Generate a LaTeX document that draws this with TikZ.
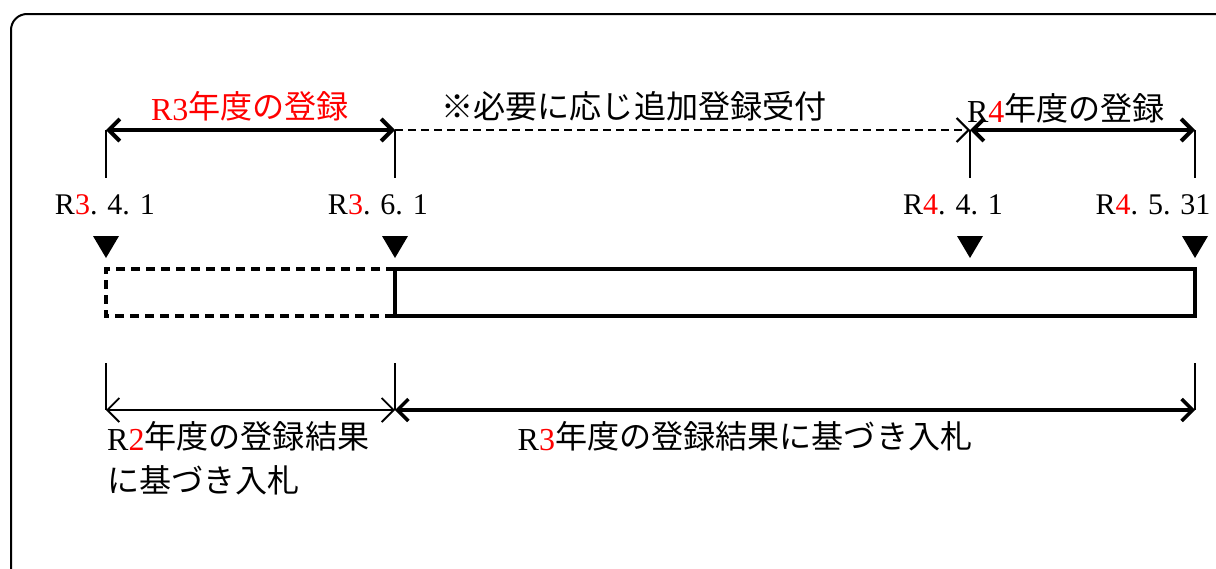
\documentclass[tikz,border=0pt]{standalone}
\usepackage{fontspec}
\setmainfont{Liberation Serif}
\newfontfamily\cjk[Scale=1.07]{Noto Sans CJK JP}
\newcommand{\lat}[1]{\raisebox{-2.5pt}{\fontsize{32}{36}\selectfont #1}}
\usetikzlibrary{arrows.meta}
\tikzset{
  lbl/.style={inner sep=0pt, font=\fontsize{30}{36}\selectfont},
  thickarr/.style={line width=4pt, {Straight Barb[length=11pt,width=22pt]}-{Straight Barb[length=11pt,width=22pt]}},
  thinarr/.style={line width=1.8pt, {Straight Barb[length=12pt,width=24pt]}-{Straight Barb[length=12pt,width=24pt]}},
  tick/.style={line width=2pt},
  tri/.style={fill=black},
}
\begin{document}
\begin{tikzpicture}[x=1pt,y=-1pt]
\useasboundingbox (0,0) rectangle (1216,568);
\clip (0,0) rectangle (1216,568);
% outer frame
\draw[line width=2pt, rounded corners=16pt] (11,14) rectangle (1250,600);

% top reference points
\coordinate (a1) at (106,130);
\coordinate (a2) at (395,130);
\coordinate (a3) at (970,130);
\coordinate (a4) at (1195,130);
\coordinate (k1) at (106,178);
\coordinate (k2) at (395,178);
\coordinate (k3) at (970,178);
\coordinate (k4) at (1195,178);

\draw[tick] (a1) -- (k1);
\draw[tick] (a2) -- (k2);
\draw[tick] (a3) -- (k3);
\draw[tick] (a4) -- (k4);

\draw[thickarr] (a1) -- (a2);
\draw[line width=2pt, dash pattern=on 8pt off 5pt, -{Straight Barb[length=12pt,width=24pt]}] (a2) -- (a3);
\draw[thickarr] (a3) -- (a4);

% top labels
\node[lbl, text=red] (t1) at (250,106) {\lat{R3}{\cjk 年度の登録}};
\node[lbl] (t2) at (634,106) {\cjk ※必要に応じ追加登録受付};
\node[lbl] (t3) at (1066,108) {\lat{R\textcolor{red}{4}}{\cjk 年度の登録}};

% date labels
\node[lbl] (d1) at (105,205) {R\textcolor{red}{3}. 4. 1};
\node[lbl] (d2) at (378,205) {R\textcolor{red}{3}. 6. 1};
\node[lbl] (d3) at (953,205) {R\textcolor{red}{4}. 4. 1};
\node[lbl] (d4) at (1153,205) {R\textcolor{red}{4}. 5. 31};

% triangles
\foreach \x in {106,395,970,1195}{
  \fill[tri] (\x-13,236) -- (\x+13,236) -- (\x,258) -- cycle;
}

% bars
\draw[line width=3.5pt, dash pattern=on 9pt off 6pt] (395,269) -- (106,269) -- (106,316) -- (395,316);
\draw[line width=4pt] (395,269) rectangle (1195,316);

% bottom reference points
\coordinate (u1) at (106,363);
\coordinate (u2) at (395,363);
\coordinate (u4) at (1195,363);
\coordinate (b1) at (106,410);
\coordinate (b2) at (395,410);
\coordinate (b4) at (1195,410);

\draw[tick] (u1) -- (b1);
\draw[tick] (u2) -- (b2);
\draw[tick] (u4) -- (b4);

\draw[thinarr] (b1) -- (b2);
\draw[line width=3.5pt, {Straight Barb[length=11pt,width=22pt]}-{Straight Barb[length=11pt,width=22pt]}] (b2) -- (b4);

% bottom labels
\node[lbl, anchor=west] (l1) at (107,436) {\lat{R\textcolor{red}{2}}{\cjk 年度の登録結果}};
\node[lbl, anchor=west] (l2) at (107,480) {\cjk に基づき入札};
\node[lbl] (l3) at (745,436) {\lat{R\textcolor{red}{3}}{\cjk 年度の登録結果に基づき入札}};
\end{tikzpicture}
\end{document}
